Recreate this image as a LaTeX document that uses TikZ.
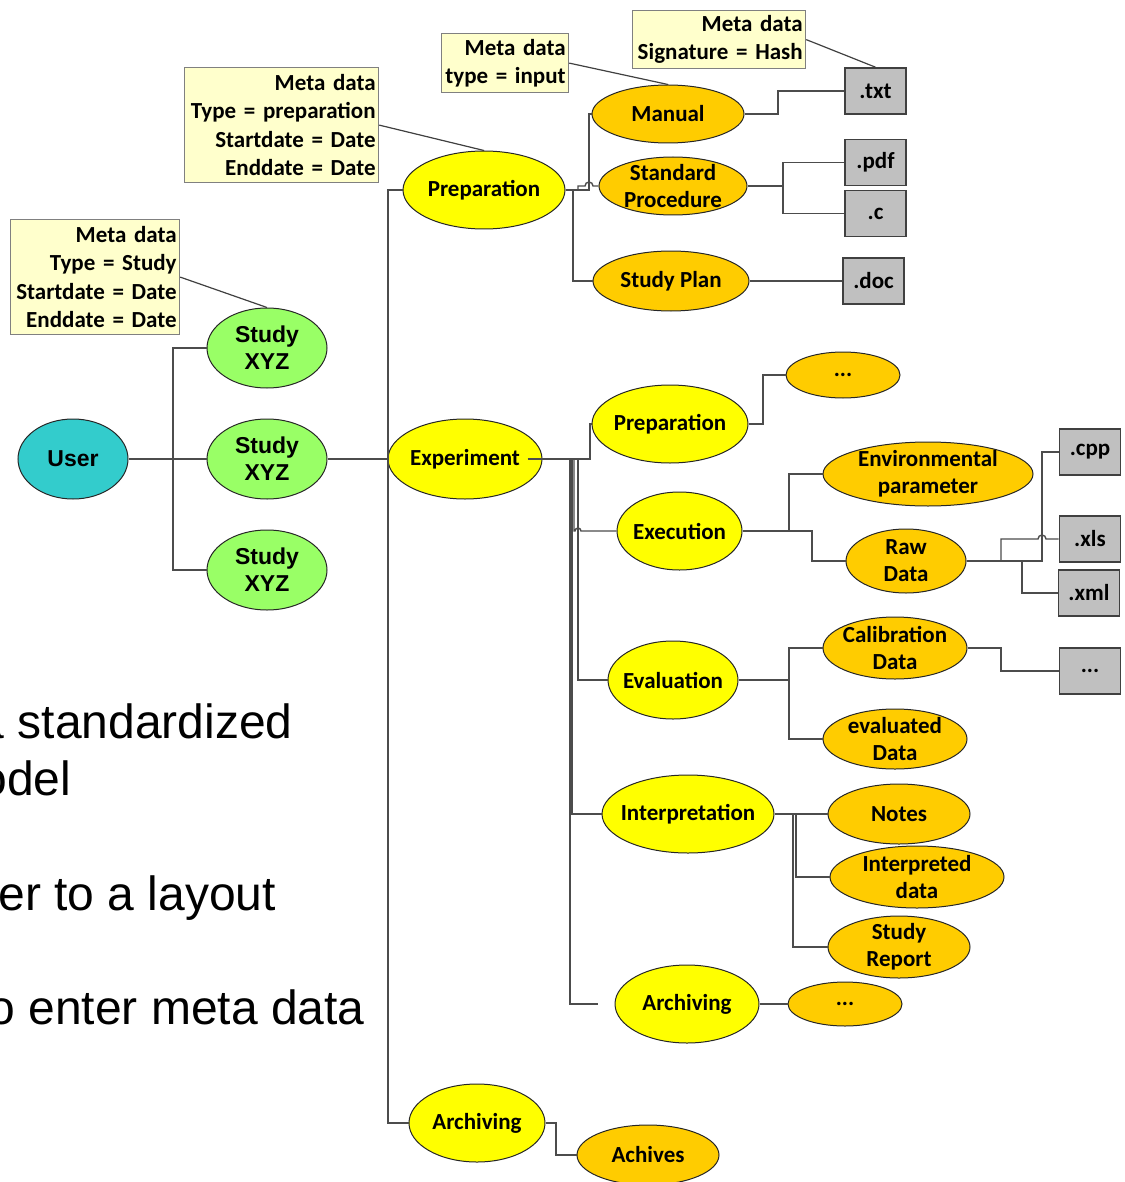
\documentclass[tikz,border=0pt]{standalone}
\usepackage{fontspec}
\setmainfont{Carlito}
\newfontfamily\arialfam{Liberation Sans}
\usetikzlibrary{shapes.geometric}

\definecolor{metafill}{HTML}{FFFFCC}
\definecolor{filegray}{HTML}{C0C0C0}
\definecolor{topyellow}{HTML}{FFFF00}
\definecolor{leaforange}{HTML}{FFCC00}
\definecolor{studygreen}{HTML}{99FF66}
\definecolor{userteal}{HTML}{33CCCC}

\newcommand\bubblefont{\fontsize{11.5}{13.5}\selectfont\bfseries}
\newcommand\metafont{\fontsize{11.5}{14.2}\selectfont\bfseries}
\newcommand\bodyfont{\arialfam\fontsize{24}{28}\selectfont}

\tikzset{
  sz/.style 2 args={minimum width=#1*0.5pt, minimum height=#2*0.5pt},
  bubble/.style={ellipse, draw=black!85, line width=0.5pt, inner sep=-40pt,
    align=center, font=\bubblefont},
  ylw/.style={bubble, fill=topyellow},
  org/.style={bubble, fill=leaforange},
  grn/.style={bubble, fill=studygreen, font=\arialfam\bubblefont},
  usr/.style={bubble, fill=userteal, font=\arialfam\bubblefont},
  filebox/.style={rectangle, draw=black!75, fill=filegray, line width=0.8pt,
    minimum width=30.5pt, minimum height=23pt, inner sep=0pt, font=\bubblefont},
  metabox/.style 2 args={rectangle, draw=black!50, fill=metafill, line width=0.6pt,
    align=right, font=\metafont, inner xsep=1.5pt, inner ysep=0pt,
    text width=#1*0.5pt-3pt, minimum height=#2*0.5pt, anchor=north west},
  wire/.style={draw=black!70, line width=0.7pt},
  metawire/.style={draw=black!75, line width=0.6pt},
  bodytext/.style={inner sep=0pt, font=\bodyfont}
}

\begin{document}
\begin{tikzpicture}[x=0.5pt, y=-0.5pt]
\useasboundingbox (0,0) rectangle (1124,1182);
\clip (0,0) rectangle (1124,1182);

% bullet text on the left
\node[bodytext, anchor=base east] (t1) at (293,738) {a standardized};
\node[bodytext, anchor=base west] (t2) at (-20,795) {odel};
\node[bodytext, anchor=base west] (t3) at (-2,910) {er to a layout};
\node[bodytext, anchor=base east] (t4) at (365,1024) {o enter meta data};

% meta data boxes
\node[metabox={173}{58}]  (m1) at (632,10)  {Meta data\\Signature = Hash};
\node[metabox={127}{59}]  (m2) at (441,33)  {Meta data\\type = input};
\node[metabox={194}{115}] (m3) at (184,67)  {Meta data\\Type = preparation\\Startdate = Date\\Enddate = Date};
\node[metabox={169}{115}] (m4) at (10,219)  {Meta data\\Type = Study\\Startdate = Date\\Enddate = Date};

% user and studies
\node[usr, sz={110}{80}] (user) at (73,459) {User};
\node[grn, sz={120}{80}] (st1) at (267,348) {Study\\XYZ};
\node[grn, sz={120}{80}] (st2) at (267,459) {Study\\XYZ};
\node[grn, sz={120}{80}] (st3) at (267,570) {Study\\XYZ};

% phases
\node[ylw, sz={162}{78}] (prep) at (484,190)  {Preparation};
\node[ylw, sz={154}{80}] (exp)  at (465,459)  {Experiment};
\node[ylw, sz={136}{78}] (arch) at (477,1123) {Archiving};

% preparation branch
\node[org, sz={152}{58}] (manual) at (668,114) {Manual};
\node[org, sz={148}{58}] (sp)     at (673,186) {Standard\\Procedure};
\node[org, sz={156}{60}] (plan)   at (671,281) {Study Plan};
\node[filebox] (txt) at (875.5,91)    {.txt};
\node[filebox] (pdf) at (875.5,162.5) {.pdf};
\node[filebox] (cf)  at (875.5,213.5) {.c};
\node[filebox] (doc) at (873.5,281)   {.doc};

% experiment branch
\node[ylw, sz={156}{78}] (prep2)  at (670,424)   {Preparation};
\node[ylw, sz={125}{78}] (exec)   at (679.5,531) {Execution};
\node[ylw, sz={130}{78}] (eval)   at (673,680)   {Evaluation};
\node[ylw, sz={172}{78}] (interp) at (688,814)   {Interpretation};
\node[ylw, sz={144}{78}] (arch2)  at (687,1004)  {Archiving};

\node[org, sz={114}{46}] (dots1)   at (843,375)  {...};
\node[org, sz={210}{64}] (env)     at (928,474)  {Environmental\\parameter};
\node[org, sz={120}{64}] (raw)     at (906,561)  {Raw\\Data};
\node[org, sz={144}{62}] (calib)   at (895,648)  {Calibration\\Data};
\node[org, sz={144}{60}] (evald)   at (895,739)  {evaluated\\Data};
\node[org, sz={142}{60}] (notes)   at (899,814)  {Notes};
\node[org, sz={174}{62}] (interpd) at (917,877)  {Interpreted\\data};
\node[org, sz={142}{62}] (report)  at (899,947)  {Study\\Report};
\node[org, sz={114}{44}] (dots2)   at (845,1004) {...};
\node[org, sz={142}{60}] (achives) at (648,1155) {Achives};

\node[filebox] (cpp)   at (1090,452) {.cpp};
\node[filebox] (xls)   at (1090,539) {.xls};
\node[filebox] (xml)   at (1089,593) {.xml};
\node[filebox] (gdots) at (1090,671) {...};

% meta data links
\draw[metawire] (m1.east) -- (txt.north);
\draw[metawire] (m2.east) -- (manual.north);
\draw[metawire] (m3.east) -- (prep.north);
\draw[metawire] (m4.east) -- (st1.north);

% user to studies
\draw[wire] (user.east) -- (st2.west);
\draw[wire] (st1.west) -| (173,459) |- (st3.west);

% study to phases
\draw[wire] (st2.east) -- (exp.west);
\draw[wire] (prep.west) -| (388,459) |- (arch.west);

% preparation children
\draw[wire] (prep.east) -- (573,190) |- (plan.west);
\draw[wire] (prep.east) -- (589,190) |- (manual.west);
\draw[wire] (prep.east) -- (578,190) -- (578,186) -- (585,186)
  arc[start angle=180, end angle=0, radius=2pt] -- (sp.west);
\draw[wire] (manual.east) -- (778,114) |- (txt.west);
\draw[wire] (sp.east) -- (783,186) |- (pdf.west);
\draw[wire] (783,186) |- (cf.west);
\draw[wire] (plan.east) -- (doc.west);

% experiment children
\coordinate (archend) at (598,1004);
\draw[wire] ([xshift=-7.5pt]exp.east) -- (590,459) |- (prep2.west);
\draw[wire] (570,459) |- (archend);
\draw[wire] (572,459) |- (interp.west);
\draw[wire] (574,459) -- (574,531) -- (575,531)
  arc[start angle=180, end angle=0, radius=1.5pt] -- (exec.west);
\draw[wire] (578,459) |- (eval.west);

\draw[wire] (prep2.east) -- (763,424) |- (dots1.west);
\draw[wire] (exec.east) -- (789,531) |- (env.west);
\draw[wire] (789,531) -- (812,531) |- (raw.west);

\draw[wire] (raw.east) -- (1042,561) |- (cpp.west);
\draw[wire] (raw.east) -- (1001,561) -- (1001,539) -- (1038,539)
  arc[start angle=180, end angle=0, radius=2pt] -- (xls.west);
\draw[wire] (raw.east) -- (1022,561) |- (xml.west);

\draw[wire] (eval.east) -- (789,680) |- (calib.west);
\draw[wire] (789,680) |- (evald.west);
\draw[wire] (calib.east) -- (1001,648) |- (gdots.west);

\draw[wire] (interp.east) -- (notes.west);
\draw[wire] (796,814) |- (interpd.west);
\draw[wire] (793,814) |- (report.west);

\draw[wire] (arch2.east) -- (dots2.west);
\draw[wire] (arch.east) -- (556,1123) |- (achives.west);
\end{tikzpicture}
\end{document}
